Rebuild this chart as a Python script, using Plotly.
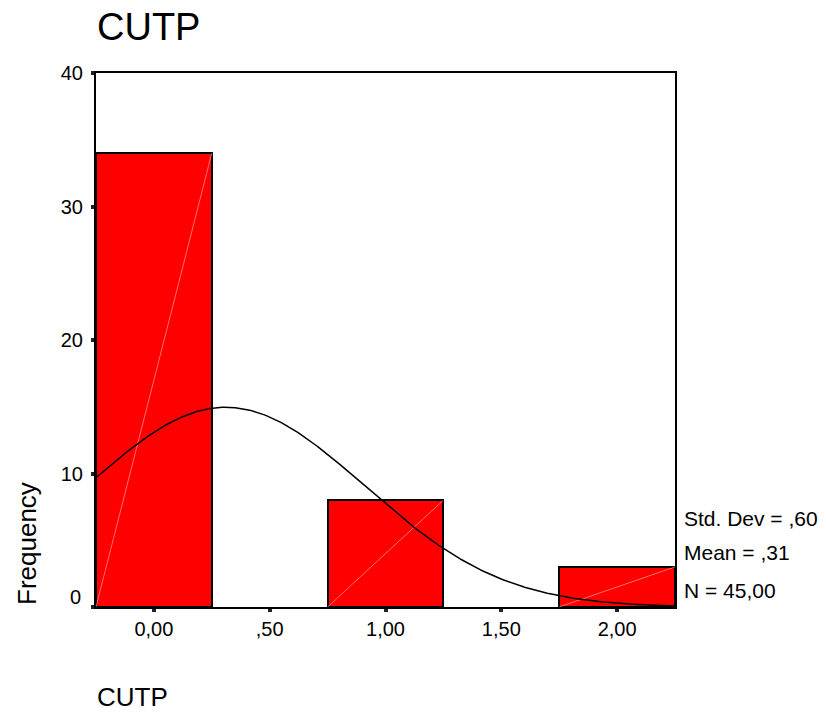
import numpy as np
import plotly.graph_objects as go

# Histogram of CUTP (bin centres, counts) and summary statistics
bin_centers = [0.0, 1.0, 2.0]
counts = [34, 8, 3]
bin_width = 0.5
mean_val = 0.31
std_val = 0.60
n_val = 45

x_ticks = [0.0, 0.5, 1.0, 1.5, 2.0]
x_tick_labels = ["0,00", ",50", "1,00", "1,50", "2,00"]
y_ticks = [0, 10, 20, 30, 40]

FONT = "Liberation Sans, Arial, sans-serif"

# plot area in pixels
L, R, T, B = 96, 675, 73, 607
W, H = 826, 713


def spss_num(v):
    s = f"{v:.2f}".replace(".", ",")
    return s[1:] if s.startswith("0,") else s


def py(pix):
    """pixel row -> paper y"""
    return (B - pix) / (B - T)


def px(pix):
    """pixel column -> paper x"""
    return (pix - L) / (R - L)


fig = go.Figure()

fig.add_trace(go.Bar(
    x=bin_centers, y=counts, width=bin_width,
    marker=dict(color="#ff0000", line=dict(color="black", width=2)),
    showlegend=False, hoverinfo="x+y",
))

# faint diagonal inside each bar
for c, h in zip(bin_centers, counts):
    fig.add_trace(go.Scatter(
        x=[c - bin_width / 2, c + bin_width / 2], y=[0, h], mode="lines",
        line=dict(color="rgba(255,200,200,0.8)", width=0.7),
        showlegend=False, hoverinfo="skip",
    ))

# fitted normal curve scaled to the histogram
xs = np.linspace(-0.25, 2.25, 400)
ys = n_val * bin_width / (std_val * np.sqrt(2 * np.pi)) * np.exp(-0.5 * ((xs - mean_val) / std_val) ** 2)
fig.add_trace(go.Scatter(
    x=xs, y=ys, mode="lines", line=dict(color="black", width=1.5),
    showlegend=False, hoverinfo="skip",
))

stats = [f"Std. Dev = {spss_num(std_val)}",
         f"Mean = {spss_num(mean_val)}",
         f"N = {spss_num(n_val)}"]
for s, row in zip(stats, [518, 552, 590]):
    fig.add_annotation(
        x=1.0, xref="paper", xanchor="left", xshift=7,
        y=py(row), yref="paper", yanchor="middle",
        text=s, showarrow=False, font=dict(size=21, color="black", family=FONT),
    )

fig.add_annotation(
    x=0, xref="paper", xanchor="left", xshift=-1,
    y=py(27), yref="paper", yanchor="middle",
    text="CUTP", showarrow=False,
    font=dict(size=38, color="black", family=FONT),
)
fig.add_annotation(
    x=0, xref="paper", xanchor="left", xshift=-1,
    y=py(697), yref="paper", yanchor="middle",
    text="CUTP", showarrow=False,
    font=dict(size=26, color="black", family=FONT),
)
fig.add_annotation(
    x=px(27), xref="paper", xanchor="center",
    y=py(544), yref="paper", yanchor="middle",
    text="Frequency", textangle=-90, showarrow=False,
    font=dict(size=26, color="black", family=FONT),
)

# the zero label sits a little above the baseline
y_tick_text = ["" if v == 0 else str(v) for v in y_ticks]
fig.add_annotation(
    x=0, xref="paper", xanchor="right", xshift=-13,
    y=y_ticks[0], yref="y", yanchor="middle", yshift=10,
    text=str(y_ticks[0]), showarrow=False,
    font=dict(size=20, color="black", family=FONT),
)

fig.update_layout(
    width=W, height=H,
    margin=dict(l=L, r=W - R, t=T, b=H - B),
    paper_bgcolor="white", plot_bgcolor="white",
    bargap=0,
    font=dict(family=FONT, size=20, color="black"),
    xaxis=dict(
        range=[-0.25, 2.25], tickvals=x_ticks, ticktext=x_tick_labels,
        showline=True, linecolor="black", linewidth=2, mirror=True,
        ticks="outside", ticklen=3, tickwidth=4, tickcolor="#222",
        showgrid=False, zeroline=False, tickfont=dict(size=20),
    ),
    yaxis=dict(
        range=[0, 40], tickvals=y_ticks, ticktext=y_tick_text,
        showline=True, linecolor="black", linewidth=2, mirror=True,
        ticks="outside", ticklen=3, tickwidth=4, tickcolor="#222",
        showgrid=False, zeroline=False, tickfont=dict(size=20),
        ticklabelstandoff=4,
    ),
)

fig.write_html("out.html")
